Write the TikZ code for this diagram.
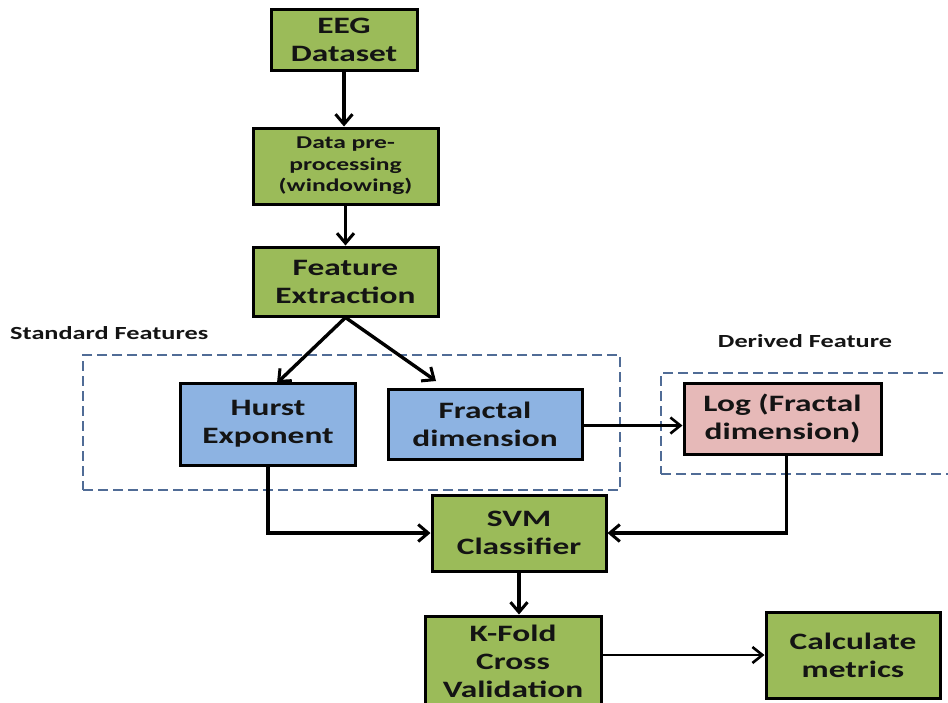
\documentclass[tikz,border=0pt]{standalone}
\usepackage{fontspec}
\setmainfont{Carlito}[FakeStretch=1.42]
\usetikzlibrary{arrows.meta}
\definecolor{boxgreen}{HTML}{9BBB59}
\definecolor{boxblue}{HTML}{8DB3E2}
\definecolor{boxpink}{HTML}{E6B9B8}
\definecolor{dashblue}{HTML}{506C96}
\definecolor{inkdark}{HTML}{141414}
\begin{document}
\begin{tikzpicture}[x=1pt,y=-1pt,
  box/.style={draw=black, line width=3pt, align=center, inner sep=0pt,
    font=\fontsize{23.5}{28}\selectfont\bfseries, text=inkdark},
  gbox/.style={box, fill=boxgreen},
  bbox/.style={box, fill=boxblue},
  pbox/.style={box, fill=boxpink},
  dbox/.style={draw=dashblue, line width=2.5pt, dash pattern=on 10pt off 5pt, inner sep=0pt},
  lbl/.style={font=\fontsize{18.5}{22}\selectfont\bfseries, text=inkdark, inner sep=0pt},
  arr/.style={line width=3.4pt, -{Straight Barb[length=10pt,width=17pt,line width=3pt]}},
  arrthin/.style={line width=2.6pt, -{Straight Barb[length=10pt,width=16pt,line width=2.6pt]}}
]
\useasboundingbox (0,0) rectangle (948,702);
\clip (0,0) rectangle (948,702);
\fill[white] (0,0) rectangle (948,702);

% dashed groups
\node[dbox, minimum width=537pt, minimum height=135pt] (stdgrp) at (351.5,422.5) {};
\node[dbox, minimum width=338pt, minimum height=101pt] (dergrp) at (830,423.5) {};
\node[lbl, anchor=west] (stdlbl) at (10,333) {Standard Features};
\node[lbl] (derlbl) at (805,341) {Derived Feature};

% boxes
\node[gbox, minimum width=146pt, minimum height=61pt] (eeg) at (344,39.5) {EEG\\Dataset};
\node[gbox, minimum width=185pt, minimum height=76pt, font=\fontsize{18}{21.5}\selectfont\bfseries] (pre) at (345.5,166) {Data pre-\\processing\\(windowing)};
\node[gbox, minimum width=185pt, minimum height=69pt] (fe) at (345.5,281.5) {Feature\\Extraction};
\node[bbox, minimum width=175pt, minimum height=82pt] (hurst) at (268,424) {Hurst\\Exponent};
\node[bbox, minimum width=194pt, minimum height=70pt] (frac) at (485,424.5) {Fractal\\dimension};
\node[pbox, minimum width=197pt, minimum height=71pt] (log) at (782.5,419) {Log (Fractal\\dimension)};
\node[gbox, minimum width=174pt, minimum height=76pt] (svm) at (519,533) {SVM\\Classifier};
\node[gbox, minimum width=176pt, minimum height=90pt] (kfold) at (513,661) {K-Fold\\Cross\\Validation};
\node[gbox, minimum width=174pt, minimum height=86pt] (calc) at (853,655) {Calculate\\metrics};

% connector ends
\coordinate (hin) at (277,383);
\coordinate (fin) at (436,381);

% connectors
\draw[arr] (eeg.south) -- (eeg.south |- pre.north);
\draw[arr] (pre.south) -- (fe.north);
\draw[arr] (fe.south) -- (hin);
\draw[arr] (fe.south) -- (fin);
\draw[arrthin] ([yshift=-1pt]frac.east) -- ([yshift=-1pt]frac.east -| log.west);
\draw[arr] (hurst.south) |- (svm.west);
\draw[arr] ([xshift=4pt]log.south) |- (svm.east);
\draw[arr] (svm.south) -- (svm.south |- kfold.north);
\draw[arrthin] (calc.west -| kfold.east) -- (calc.west);
\end{tikzpicture}
\end{document}
